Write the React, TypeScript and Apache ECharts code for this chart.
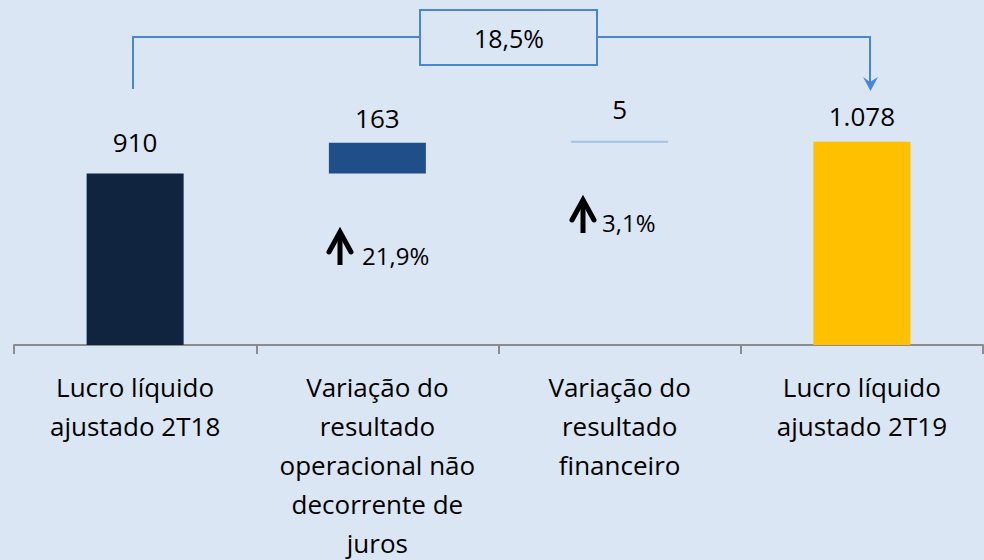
import React, { useEffect, useRef } from "react";
import * as echarts from "echarts";

const categories = [
  "Lucro líquido\najustado 2T18",
  "Variação do\nresultado\noperacional não\ndecorrente de\njuros",
  "Variação do\nresultado\nfinanceiro",
  "Lucro líquido\najustado 2T19",
];
const values = [910, 163, 5, 1078];
const baseValues = [0, 910, 1073, 0];
const valueLabels = ["910", "163", "5", "1.078"];
const barColors = ["#10243f", "#1f4e89", "#9dc3e6", "#ffc000"];
const labelDistances = [18, 12, 19, 13];
const totalChange = "18,5%";
const changes = ["21,9%", "3,1%"];

const FONT = "'Open Sans'";
const BRACKET = "#4a86d8";

export default function App() {
  const ref = useRef<HTMLDivElement>(null);
  useEffect(() => {
    if (!ref.current) return;
    const chart = echarts.init(ref.current, undefined, { renderer: "svg" });
    const arrow = (cx: number, tip: number, bottom: number, armY: number, half: number) => [
      {
        type: "line",
        shape: { x1: cx, y1: tip + 3, x2: cx, y2: bottom },
        style: { stroke: "#000", lineWidth: 5 },
      },
      {
        type: "polyline",
        shape: { points: [[cx - half, armY], [cx, tip + 2], [cx + half, armY]] },
        style: { stroke: "#000", lineWidth: 5, fill: "none", lineJoin: "miter", lineCap: "round" },
      },
    ];
    chart.setOption({
      animation: false,
      backgroundColor: "#dbe6f4",
      grid: {
        left: 14,
        right: 1,
        top: 81,
        bottom: 215,
        containLabel: false,
        outerBoundsMode: "none",
      },
      xAxis: {
        type: "category",
        data: categories,
        axisLine: { lineStyle: { color: "#8c8c8c", width: 2 } },
        axisTick: { show: true, length: 9, lineStyle: { color: "#8c8c8c", width: 2 } },
        axisLabel: {
          interval: 0,
          color: "#000",
          fontFamily: FONT,
          fontSize: 26,
          lineHeight: 39,
          margin: 22,
        },
      },
      yAxis: {
        type: "value",
        min: 0,
        max: 1400,
        show: false,
        splitLine: { show: false },
      },
      series: [
        {
          type: "bar",
          stack: "w",
          data: baseValues,
          itemStyle: { color: "transparent" },
          barWidth: 97,
          silent: true,
        },
        {
          type: "bar",
          stack: "w",
          barWidth: 97,
          barMinHeight: 2,
          data: values.map((v, i) => ({
            value: v,
            itemStyle: { color: barColors[i] },
            label: {
              show: true,
              position: "top",
              distance: labelDistances[i],
              formatter: valueLabels[i],
              color: "#000",
              fontFamily: FONT,
              fontSize: 26,
            },
          })),
        },
      ],
      graphic: [
        {
          type: "polyline",
          shape: { points: [[133, 89], [133, 37], [420, 37]] },
          style: { stroke: BRACKET, lineWidth: 2, fill: "none" },
        },
        {
          type: "polyline",
          shape: { points: [[597, 37], [870, 37], [870, 84]] },
          style: { stroke: BRACKET, lineWidth: 2, fill: "none" },
        },
        {
          type: "polygon",
          shape: { points: [[863, 77], [870, 82], [878, 77], [870.5, 91]] },
          style: { fill: BRACKET },
        },
        {
          type: "rect",
          shape: { x: 420, y: 10, width: 177, height: 55 },
          style: { stroke: BRACKET, lineWidth: 2, fill: "none" },
        },
        {
          type: "text",
          x: 509,
          y: 38,
          style: {
            text: totalChange,
            fill: "#000",
            font: `25px ${FONT}`,
            align: "center",
            verticalAlign: "middle",
          },
        },
        ...arrow(340, 230, 265, 252, 11),
        {
          type: "text",
          x: 362,
          y: 255,
          style: {
            text: changes[0],
            fill: "#000",
            font: `24px ${FONT}`,
            align: "left",
            verticalAlign: "middle",
          },
        },
        ...arrow(583, 198, 233, 220, 11),
        {
          type: "text",
          x: 602,
          y: 222,
          style: {
            text: changes[1],
            fill: "#000",
            font: `24px ${FONT}`,
            align: "left",
            verticalAlign: "middle",
          },
        },
      ],
    });
    return () => chart.dispose();
  }, []);
  return (
    <div
      ref={ref}
      style={{ position: "absolute", left: 0, top: 0, width: 984, height: 560 }}
    />
  );
}
